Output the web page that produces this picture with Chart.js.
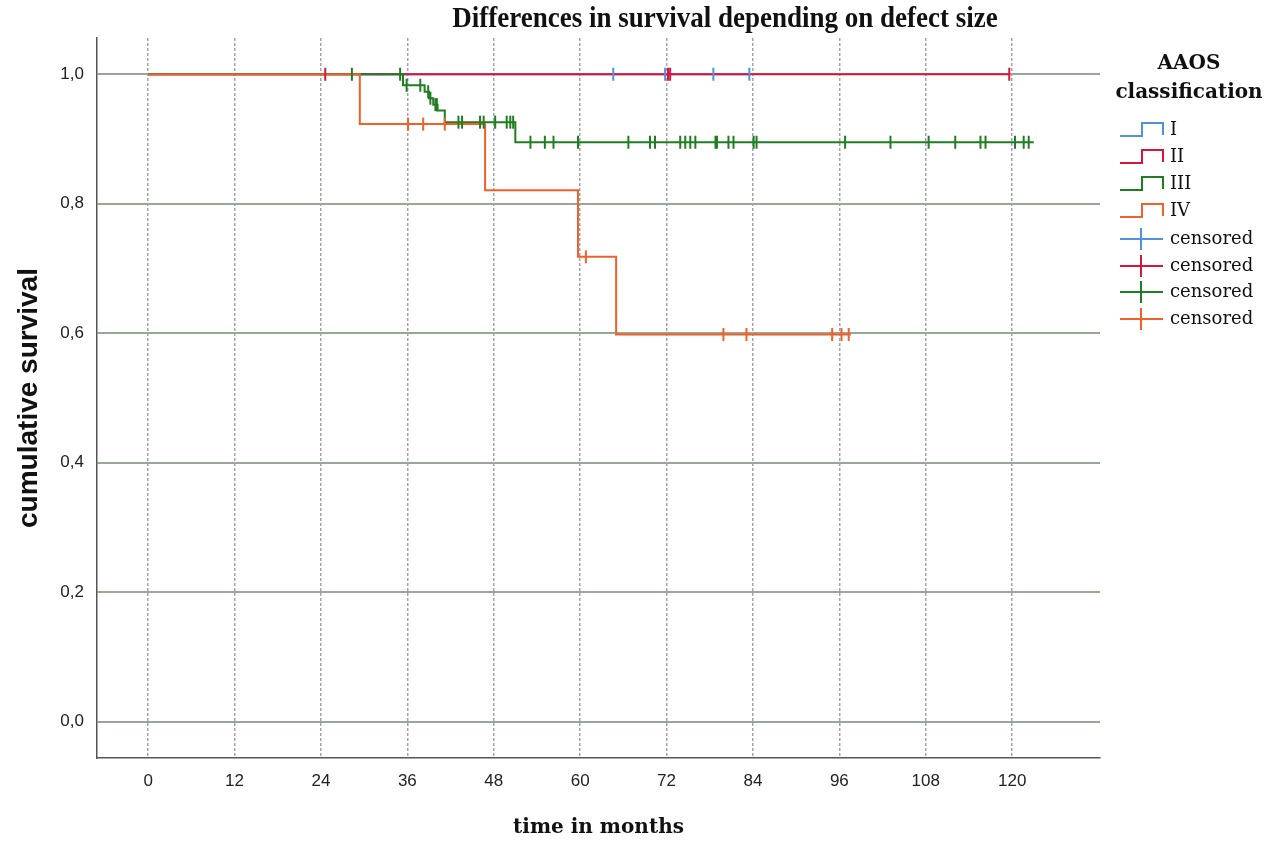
<!DOCTYPE html>
<html>
<head>
<meta charset="utf-8">
<script src="https://cdn.jsdelivr.net/npm/chart.js@4.4.0/dist/chart.umd.min.js"></script>
<style>
  html, body { margin: 0; padding: 0; background: #fff; }
</style>
</head>
<body>
<canvas id="chart" width="1278" height="841"></canvas>
<script>
// tick labels
const xTicks = [0, 12, 24, 36, 48, 60, 72, 84, 96, 108, 120];
const yTicks = [0, 0.2, 0.4, 0.6, 0.8, 1.0];

const groupNames = ["I", "II", "III", "IV"];
const groupColors = ["#4f93e0", "#d8163c", "#1f7d22", "#f2602a"];

// Kaplan-Meier steps: time (months) where survival changes, and the new level
const timeI = [0, 83.5];
const survI = [1, 1];
const timeII = [0, 119.6];
const survII = [1, 1];
const timeIII = [0, 35.4, 38.4, 39.0, 39.6, 40.2, 41.2, 51.0, 123.0];
const survIII = [1, 0.983, 0.973, 0.963, 0.953, 0.944, 0.926, 0.895, 0.895];
const timeIV = [0, 29.4, 46.8, 59.7, 65.0, 97.6];
const survIV = [1, 0.923, 0.821, 0.718, 0.598, 0.598];

// censored observations (months)
const censI = [64.6, 71.8, 78.5, 83.5];
const censII = [24.6, 72.2, 72.5, 119.6];
const censIII = [28.3, 35.0, 35.9, 37.8, 38.9, 39.2, 39.9, 40.1, 43.1, 43.6, 46.1, 46.6,
  48.2, 49.8, 50.3, 50.7, 53.1, 55.1, 56.3, 59.7, 66.7, 69.7, 70.4, 73.9, 74.6, 75.3,
  76.0, 78.8, 79.0, 80.6, 81.3, 84.1, 84.5, 96.8, 103.1, 108.4, 112.1, 115.6, 116.3,
  120.4, 121.6, 122.3];
const censIV = [36.1, 38.2, 41.2, 60.8, 79.9, 83.1, 95.0, 96.3, 97.3];

const stepTimes = [timeI, timeII, timeIII, timeIV];
const stepSurv = [survI, survII, survIII, survIV];
const censTimes = [censI, censII, censIII, censIV];

// survival level of a group at time t
function levelAt(g, t) {
  const ts = stepTimes[g], ss = stepSurv[g];
  let v = ss[0];
  for (let i = 0; i < ts.length; i++) if (ts[i] <= t) v = ss[i];
  return v;
}

const datasets = [];
// censor marks on top
for (let g = 0; g < 4; g++) {
  datasets.push({
    label: "censored",
    data: censTimes[g].map(t => ({ x: t, y: levelAt(g, t) })),
    showLine: false,
    pointStyle: "line",
    rotation: 90,
    pointRadius: 6.5,
    pointHoverRadius: 6.5,
    borderColor: groupColors[g],
    pointBorderWidth: 2,
  });
}
// step lines, drawn IV over III over II over I
for (let g = 3; g >= 0; g--) {
  datasets.push({
    label: groupNames[g],
    data: stepTimes[g].map((t, i) => ({ x: t, y: stepSurv[g][i] })),
    stepped: "before",
    borderColor: groupColors[g],
    borderWidth: 2,
    pointRadius: 0,
    fill: false,
  });
}

const extraText = {
  id: "extraText",
  afterDraw(chart) {
    const ctx = chart.ctx;
    ctx.save();
    // title, a little condensed like the original
    ctx.fillStyle = "#111";
    ctx.textAlign = "center";
    ctx.textBaseline = "middle";
    ctx.save();
    ctx.translate(725, 19);
    ctx.scale(0.9, 1);
    ctx.font = "bold 30px 'Liberation Serif'";
    ctx.fillText("Differences in survival depending on defect size", 0, 0);
    ctx.restore();

    // legend
    ctx.font = "bold 20px 'DejaVu Serif'";
    ctx.fillText("AAOS", 1189, 64);
    ctx.fillText("classification", 1189, 93);

    ctx.textAlign = "left";
    ctx.font = "18px 'DejaVu Serif'";
    const stepY = [130, 157, 184, 211];
    const censY = [239, 266, 292, 319];
    ctx.lineWidth = 2;
    for (let g = 0; g < 4; g++) {
      let cy = stepY[g];
      ctx.strokeStyle = groupColors[g];
      ctx.beginPath();
      ctx.moveTo(1120, cy + 6);
      ctx.lineTo(1142, cy + 6);
      ctx.lineTo(1142, cy - 7);
      ctx.lineTo(1163, cy - 7);
      ctx.lineTo(1163, cy + 5);
      ctx.stroke();
      ctx.fillStyle = "#111";
      ctx.fillText(groupNames[g], 1170, cy);

      cy = censY[g];
      ctx.beginPath();
      ctx.moveTo(1120, cy);
      ctx.lineTo(1163, cy);
      ctx.moveTo(1141, cy - 11);
      ctx.lineTo(1141, cy + 11);
      ctx.stroke();
      ctx.fillText("censored", 1170, cy);
    }
    ctx.restore();
  }
};

new Chart(document.getElementById("chart"), {
  type: "line",
  data: { datasets },
  options: {
    responsive: false,
    animation: false,
    events: [],
    layout: { padding: { top: 38, right: 178, bottom: 0, left: 0 } },
    plugins: { legend: { display: false }, tooltip: { enabled: false } },
    scales: {
      x: {
        type: "linear",
        min: -7.1,
        max: 132.2,
        afterBuildTicks: s => { s.ticks = xTicks.map(v => ({ value: v })); },
        afterFit: s => { s.height = 83; },
        ticks: {
          padding: 13,
          color: "#222",
          font: { family: "'Liberation Sans', Arial", size: 17 },
        },
        grid: { color: "#a3a3ad", lineWidth: 1.5, drawTicks: false },
        border: { display: true, color: "#555", width: 1.5, dash: [3, 2] },
        title: {
          display: true,
          text: "time in months",
          color: "#111",
          font: { family: "'DejaVu Serif'", size: 20, weight: "bold" },
          padding: { top: 0, bottom: 1 },
        },
      },
      y: {
        type: "linear",
        min: -0.056,
        max: 1.056,
        afterBuildTicks: s => { s.ticks = yTicks.map(v => ({ value: v })); },
        afterFit: s => { s.width = 97; },
        ticks: {
          padding: 13,
          color: "#222",
          font: { family: "'Liberation Sans', Arial", size: 17 },
          callback: v => v.toFixed(1).replace(".", ","),
        },
        grid: { color: "#97a897", lineWidth: 2, drawTicks: false },
        border: { display: true, color: "#555", width: 1.5 },
        title: {
          display: true,
          text: "cumulative survival",
          color: "#111",
          font: { family: "'Liberation Sans', Arial", size: 28, weight: "bold" },
          padding: { top: 12, bottom: 0 },
        },
      },
    },
  },
  plugins: [extraText],
});
</script>
</body>
</html>
